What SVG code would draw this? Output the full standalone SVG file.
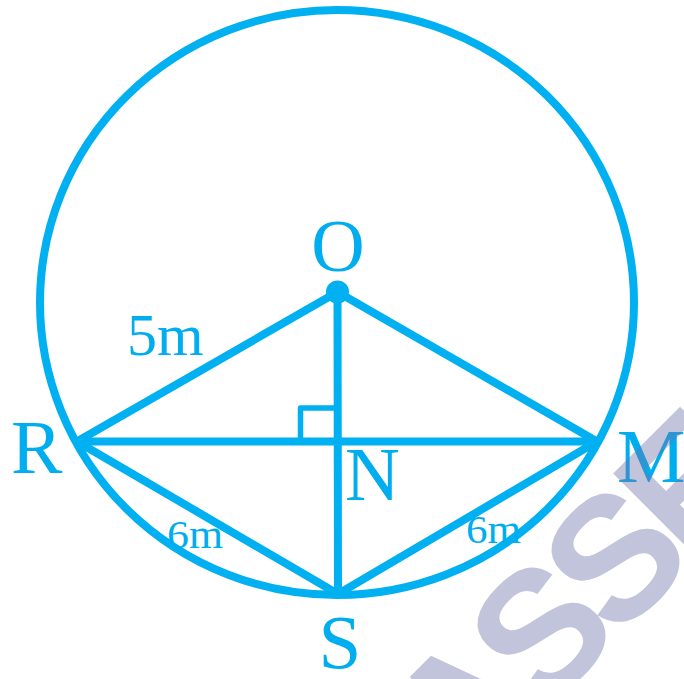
<svg xmlns="http://www.w3.org/2000/svg" width="684" height="679" viewBox="0 0 684 679">
<style>
.ln{stroke:#00b0f0;stroke-width:8;fill:none;stroke-linecap:round;stroke-linejoin:round}
.lbl{font-family:"Liberation Serif","Times New Roman",serif;fill:#00aeef}
.wm{font-family:"Liberation Sans",Arial,sans-serif;font-weight:bold;fill:#6b73a6;fill-opacity:0.42}
</style>
<rect width="684" height="679" fill="#ffffff"/>
<g id="circle"><ellipse cx="337" cy="302.5" rx="297" ry="292.5" class="ln" stroke-width="9"/></g>
<g id="connectors">
<line x1="77" y1="441.5" x2="337.5" y2="292" class="ln"/>
<line x1="597" y1="441.5" x2="337.5" y2="292" class="ln"/>
<line x1="77" y1="441.5" x2="597" y2="441.5" class="ln"/>
<line x1="337.5" y1="292" x2="338" y2="594" class="ln"/>
<line x1="77" y1="441.5" x2="338" y2="594" class="ln"/>
<line x1="597" y1="441.5" x2="338" y2="594" class="ln"/>
<polyline points="300.5,441.5 300.5,408 334,408" class="ln" style="stroke-width:5.5;stroke-linecap:butt"/>
</g>
<g id="O"><circle cx="337.5" cy="292" r="11.5" fill="#00b0f0"/><text x="338" y="271" text-anchor="middle" class="lbl" font-size="74">O</text></g>
<g id="R"><text x="11" y="473" class="lbl" font-size="77">R</text></g>
<g id="M"><text x="617" y="482" class="lbl" font-size="77">M</text></g>
<g id="N"><text x="345" y="500" class="lbl" font-size="76">N</text></g>
<g id="S"><text x="340" y="668" text-anchor="middle" class="lbl" font-size="77">S</text></g>
<g id="labels">
<text x="127" y="355" class="lbl" font-size="60">5m</text>
<text x="167" y="548" class="lbl" font-size="40" textLength="56" lengthAdjust="spacingAndGlyphs">6m</text>
<text x="466" y="543" class="lbl" font-size="40" textLength="55" lengthAdjust="spacingAndGlyphs">6m</text>
</g>
<g id="watermark"><text transform="translate(461,796) rotate(-45)" class="wm" font-size="175" letter-spacing="-12">ASSE</text></g>
</svg>
